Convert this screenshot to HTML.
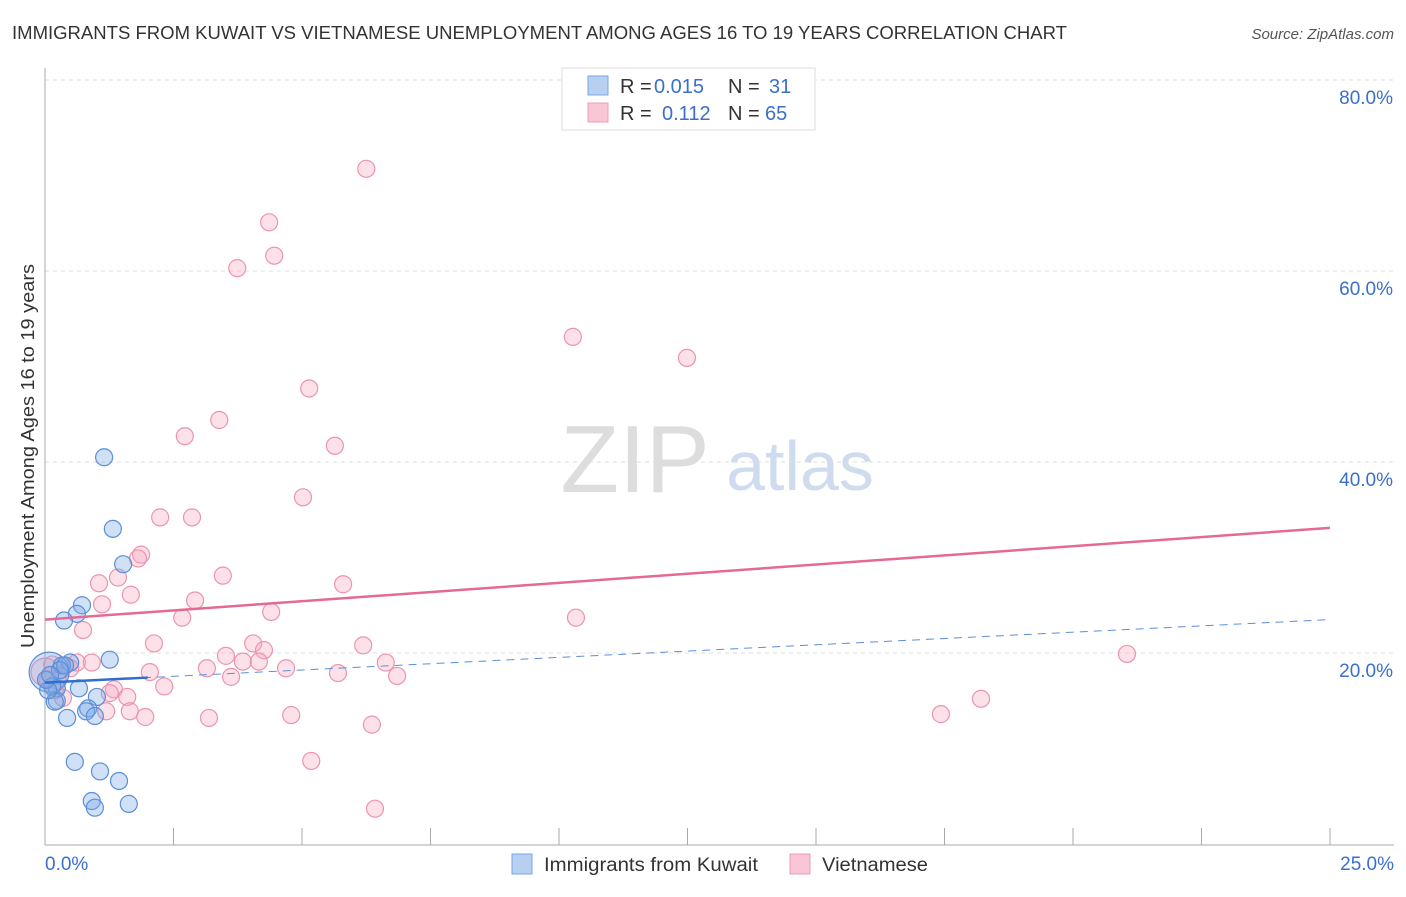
<!DOCTYPE html>
<html><head><meta charset="utf-8"><style>
body{margin:0;background:#fff;font-family:"Liberation Sans",sans-serif;}
svg text{font-family:"Liberation Sans",sans-serif;}
</style></head><body>
<svg id="c" width="1406" height="892" viewBox="0 0 1406 892">
<text x="12" y="39" font-size="18" fill="#333" textLength="1055" lengthAdjust="spacingAndGlyphs">IMMIGRANTS FROM KUWAIT VS VIETNAMESE UNEMPLOYMENT AMONG AGES 16 TO 19 YEARS CORRELATION CHART</text>
<text x="1394" y="39" font-size="15" fill="#555" text-anchor="end" font-style="italic">Source: ZipAtlas.com</text>
<text x="635" y="492" font-size="96" fill="#ddd" text-anchor="middle" font-family="Liberation Serif">ZIP</text>
<text x="800" y="490" font-size="70" fill="#cfdcef" text-anchor="middle">atlas</text>
<text transform="translate(34,456) rotate(-90)" font-size="18" fill="#333" text-anchor="middle" textLength="384" lengthAdjust="spacingAndGlyphs">Unemployment Among Ages 16 to 19 years</text>
<g id="grid"></g><g id="axes"></g><g id="marks"></g>
<g>
<rect x="562" y="68" width="253" height="62" fill="#fff" stroke="#ddd"/>
<rect x="588" y="76" width="20" height="19" fill="#b7d0f2" stroke="#7aa6e0"/>
<rect x="588" y="103" width="20" height="19" fill="#f9c6d5" stroke="#ee9bb4"/>
<text y="93" font-size="20" fill="#333"><tspan x="620">R =</tspan><tspan x="654" fill="#3a6fcc">0.015</tspan><tspan x="728">N =</tspan><tspan x="769" fill="#3a6fcc">31</tspan></text>
<text y="120" font-size="20" fill="#333"><tspan x="620">R =</tspan><tspan x="662" fill="#3a6fcc">0.112</tspan><tspan x="728">N =</tspan><tspan x="765" fill="#3a6fcc">65</tspan></text>
</g>
<g>
<rect x="512" y="854" width="20" height="20" fill="#b7d0f2" stroke="#7aa6e0"/>
<text x="544" y="871" font-size="19" fill="#333" textLength="214" lengthAdjust="spacingAndGlyphs">Immigrants from Kuwait</text>
<rect x="790" y="854" width="20" height="20" fill="#f9c6d5" stroke="#ee9bb4"/>
<text x="822" y="871" font-size="19" fill="#333" textLength="106" lengthAdjust="spacingAndGlyphs">Vietnamese</text>
</g>
</svg>
<script>
const yTicks=[20,40,60,80];
const yTickLabels=["20.0%","40.0%","60.0%","80.0%"];
const xTickCount=10;
const xLabels=["0.0%","25.0%"];
const blueX=[0.08,1.15,1.32,1.52,0.72,0.62,0.37,1.26,0.49,0.33,0.66,0.23,0.14,1.01,0.23,0.19,0.84,0.80,0.97,0.43,0.58,1.07,1.44,0.91,0.97,1.63,0.06,0.39,0.02,0.29,0.10];
const blueY=[18.0,40.5,33.0,29.3,25.0,24.1,23.4,19.3,19.0,18.7,16.3,16.3,16.5,15.4,15.0,14.9,14.2,13.9,13.4,13.2,8.6,7.6,6.6,4.5,3.8,4.2,16.1,18.7,17.2,18.2,17.7];
const pinkX=[6.25,4.36,4.46,3.74,10.27,12.49,5.14,3.39,2.72,5.64,5.02,2.24,2.86,1.87,1.81,3.46,1.42,1.05,5.80,1.67,2.92,1.11,4.40,2.67,10.33,0.74,2.12,4.05,6.19,3.52,4.26,21.05,0.91,0.62,3.85,4.16,6.63,2.04,3.15,4.69,5.70,3.62,6.85,0.29,0.06,2.32,1.34,1.26,1.60,0.35,17.43,18.21,1.19,1.65,1.95,3.19,4.79,6.36,5.18,6.42,0.19,0.49,0.0,0.25,0.14];
const pinkY=[70.7,65.1,61.6,60.3,53.1,50.9,47.7,44.4,42.7,41.7,36.3,34.2,34.2,30.3,29.9,28.1,27.9,27.3,27.2,26.1,25.5,25.1,24.3,23.7,23.7,22.4,21.0,21.0,20.8,19.7,20.3,19.9,19.0,19.0,19.1,19.1,19.0,18.0,18.4,18.4,17.9,17.5,17.6,17.6,17.2,16.5,16.2,15.8,15.4,15.3,13.6,15.2,13.9,13.9,13.3,13.2,13.5,12.5,8.7,3.7,16.1,18.4,18.0,17.1,18.8];
const blueTrend=[16.9,23.5];
const pinkTrend=[23.5,33.1];
const X=v=>45+v*51.4, Y=v=>844-v*9.55;
const NS="http://www.w3.org/2000/svg";
function mk(t,a,p){const e=document.createElementNS(NS,t);for(const k in a)e.setAttribute(k,a[k]);p.appendChild(e);return e;}
const grid=document.getElementById('grid'),axes=document.getElementById('axes'),marks=document.getElementById('marks');
yTicks.forEach((v,i)=>{
 const l=mk('line',{x1:45,x2:1394,y1:Y(v),y2:Y(v),stroke:'#ddd','stroke-dasharray':'4,4'},grid);
 
 
 const t=mk('text',{x:1393,y:Y(v)+24,'font-size':19,fill:'#3a6fcc','text-anchor':'end'},axes);t.textContent=yTickLabels[i];
 
 
});
const ax=mk('line',{x1:45,x2:45,y1:68,y2:845,stroke:'#aaa'},axes);


const bx=mk('line',{x1:45,x2:1394,y1:845,y2:845,stroke:'#aaa'},axes);


for(let i=0;i<=xTickCount;i++){const x=X(i*25/xTickCount);const t=mk('line',{x1:x,x2:x,y1:828,y2:845,stroke:'#aaa'},axes);
 
 }
[[0,'start',45],[25,'end',1394]].forEach((d,i)=>{const t=mk('text',{x:d[2],y:870,'font-size':19,fill:'#3a6fcc','text-anchor':d[1]},axes);t.textContent=xLabels[i];
 
 });
pinkX.forEach((x,i)=>{const c=mk('circle',{cx:X(x),cy:Y(pinkY[i]),r:i==62?14:8.5,fill:'rgba(246,168,192,0.35)',stroke:'#ec94af','stroke-width':1.2},marks);
 
 });
blueX.forEach((x,i)=>{const c=mk('circle',{cx:X(x),cy:Y(blueY[i]),r:i==0?20:8.5,fill:'rgba(120,165,230,0.35)',stroke:'#5b8fd8','stroke-width':1.2},marks);
 
 });
const pt=mk('line',{x1:X(0),x2:X(25),y1:Y(pinkTrend[0]),y2:Y(pinkTrend[1]),stroke:'#e46a94','stroke-width':2.5},marks);


const bt=mk('line',{x1:X(0),x2:X(25),y1:Y(blueTrend[0]),y2:Y(blueTrend[1]),stroke:'#5b8fd8','stroke-width':1,'stroke-dasharray':'8,6'},marks);


const bs=mk('line',{x1:X(0),x2:X(2),y1:Y(blueTrend[0]),y2:Y(blueTrend[0]+(blueTrend[1]-blueTrend[0])*2/25),stroke:'#2f6fd0','stroke-width':2.5},marks);


</script>
</body></html>
